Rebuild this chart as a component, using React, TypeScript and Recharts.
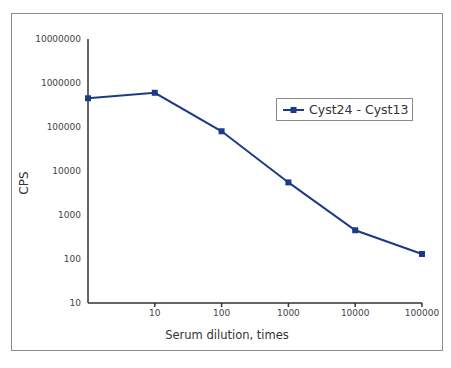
import React from 'react';
import { LineChart, Line, XAxis, YAxis } from 'recharts';

const dilution = [1, 10, 100, 1000, 10000, 100000];
const cps = [450000, 600000, 80000, 5500, 450, 130];
const xTicks = [10, 100, 1000, 10000, 100000];
const yTicks = [10, 100, 1000, 10000, 100000, 1000000, 10000000];
const seriesName = 'Cyst24 - Cyst13';
const xTitle = 'Serum dilution, times';
const yTitle = 'CPS';

const data = dilution.map((d, i) => ({ dilution: d, cps: cps[i] }));

const FONT = '"DejaVu Sans", sans-serif';
const LINE = '#1c3a8a';

const LegendBox = () => (
  <div
    style={{
      position: 'absolute',
      left: 276,
      top: 98,
      border: '1.5px solid #8a8a8a',
      width: 137,
      height: 23,
      boxSizing: 'border-box',
      display: 'flex',
      alignItems: 'center',
      fontFamily: FONT,
      fontSize: 12.5,
      color: '#333',
      background: '#fff',
      whiteSpace: 'nowrap',
    }}
  >
    <svg width={28} height={10} style={{ marginLeft: 4 }}>
      <line x1={2} y1={5} x2={23} y2={5} stroke={LINE} strokeWidth={2} />
      <rect x={9.5} y={2} width={6} height={6} fill={LINE} />
    </svg>
    <span>{seriesName}</span>
  </div>
);

export default function App() {
  return (
    <div style={{ position: 'absolute', left: 0, top: 0, width: 451, height: 368, background: '#fff' }}>
      <div
        style={{
          position: 'absolute',
          left: 11,
          top: 13,
          width: 432,
          height: 338,
          border: '1.5px solid #8c8c8c',
          boxSizing: 'border-box',
        }}
      />
      <div style={{ position: 'absolute', left: 0, top: 0 }}>
        <LineChart
          width={451}
          height={368}
          data={data}
          margin={{ top: 39, right: 29, bottom: 35, left: 28 }}
        >
          <XAxis
            dataKey="dilution"
            type="number"
            scale="log"
            domain={[1, 100000]}
            ticks={xTicks}
            height={30}
            axisLine={{ stroke: '#333', strokeWidth: 1.5 }}
            tickLine={{ stroke: '#333', strokeWidth: 1.5 }}
            tickSize={4}
            tickMargin={3}
            tick={{ fontFamily: FONT, fontSize: 9, fill: '#444' }}
            interval={0}
            label={{
              value: xTitle,
              position: 'bottom',
              offset: -2,
              dx: -28,
              style: { fontFamily: FONT, fontSize: 11.5, fill: '#333' },
            }}
          />
          <YAxis
            type="number"
            scale="log"
            domain={[10, 10000000]}
            ticks={yTicks}
            allowDataOverflow
            width={60}
            axisLine={{ stroke: '#333', strokeWidth: 1.5 }}
            tickLine={false}
            tickSize={0}
            tickMargin={7}
            tick={{ fontFamily: FONT, fontSize: 9, fill: '#444' }}
            interval={0}
            label={{
              value: yTitle,
              angle: -90,
              position: 'insideLeft',
              offset: -4,
              dy: 12,
              style: { fontFamily: FONT, fontSize: 12, fill: '#333', textAnchor: 'middle' },
            }}
          />
          <Line
            type="linear"
            dataKey="cps"
            name={seriesName}
            stroke={LINE}
            strokeWidth={2}
            isAnimationActive={false}
            dot={(p: any) => (
              <rect key={p.index} x={p.cx - 3} y={p.cy - 3} width={6} height={6} fill={LINE} />
            )}
            activeDot={false}
          />
        </LineChart>
      </div>
      <LegendBox />
    </div>
  );
}
